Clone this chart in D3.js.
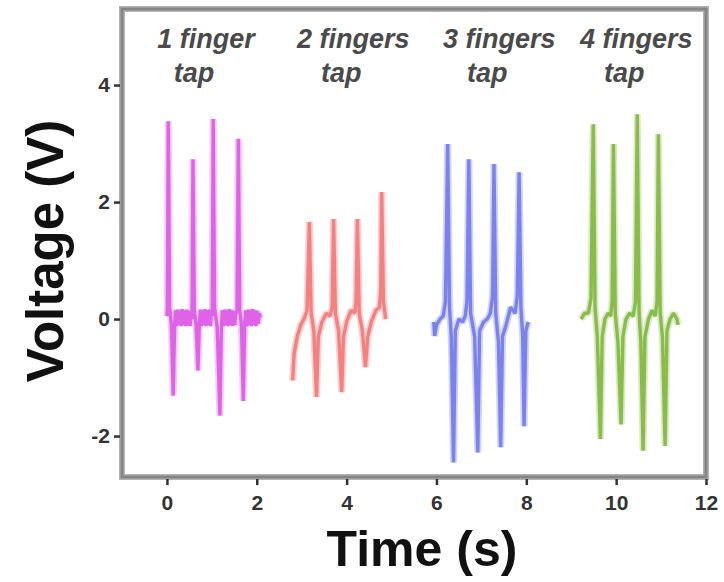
<!DOCTYPE html>
<html>
<head>
<meta charset="utf-8">
<script src="https://cdn.jsdelivr.net/npm/d3@7"></script>
<style>
  html, body { margin: 0; padding: 0; background: #fff; }
  svg { display: block; font-family: "Liberation Sans", Arial, sans-serif; }
</style>
</head>
<body>
<svg id="chart" width="724" height="582"></svg>
<script>
// ---- data ----
const groupLabels = ["1 finger", "2 fingers", "3 fingers", "4 fingers"];
const groupSub = ["tap", "tap", "tap", "tap"];
const groupLabelX = [0.87, 4.15, 7.4, 10.45]; // label centres in time units
const xTicks = [0, 2, 4, 6, 8, 10, 12];
const yTicks = [-2, 0, 2, 4];

const tap1Time = [0.00,0.01,0.03,0.06,0.10,0.14,0.17,0.19,0.215,0.24,0.265,0.29,0.315,0.34,0.365,0.39,0.415,0.44,0.465,0.49,0.515,0.54,0.56,0.58,0.61,0.65,0.69,0.72,0.745,0.77,0.795,0.82,0.845,0.87,0.895,0.92,0.945,0.97,0.99,1.01,1.03,1.06,1.12,1.18,1.21,1.235,1.26,1.285,1.31,1.335,1.36,1.385,1.41,1.435,1.46,1.485,1.51,1.535,1.56,1.59,1.62,1.66,1.70,1.73,1.755,1.78,1.805,1.83,1.855,1.88,1.905,1.93,1.955,1.98,2.005,2.03,2.055,2.08];
const tap1Volt = [0.05,0.15,3.38,0.20,-0.10,-1.31,-0.15,0.15,-0.12,0.16,-0.10,0.15,-0.12,0.17,-0.10,0.15,-0.12,0.16,-0.10,0.14,-0.12,0.10,0.00,2.73,0.15,-0.10,-0.88,-0.10,0.16,-0.12,0.15,-0.10,0.17,-0.12,0.15,-0.10,0.16,-0.12,0.12,0.05,3.42,0.20,-0.15,-1.65,-0.20,0.15,-0.12,0.16,-0.10,0.15,-0.12,0.17,-0.10,0.15,-0.12,0.14,-0.10,0.12,0.10,3.08,0.15,-0.10,-1.40,-0.10,0.15,-0.12,0.16,-0.10,0.15,-0.12,0.17,-0.10,0.15,-0.12,0.14,-0.08,0.10,0.02];

const tap2Time = [2.80,2.83,2.90,2.98,3.05,3.12,3.17,3.21,3.27,3.33,3.37,3.45,3.55,3.63,3.68,3.71,3.75,3.82,3.89,3.93,4.00,4.10,4.18,4.21,4.24,4.28,4.35,4.42,4.47,4.55,4.65,4.73,4.76,4.78,4.82,4.87];
const tap2Volt = [-1.05,-0.60,-0.30,-0.10,0.00,0.15,1.66,0.10,-0.20,-1.33,-0.30,-0.05,0.10,0.05,0.20,1.71,0.10,-0.20,-1.25,-0.30,-0.05,0.15,0.10,0.30,1.71,0.10,-0.20,-0.82,-0.30,-0.05,0.15,0.20,0.50,2.17,0.30,0.00];

const tap3Time = [5.94,5.96,6.00,6.08,6.15,6.20,6.25,6.29,6.33,6.38,6.42,6.50,6.58,6.64,6.68,6.72,6.76,6.85,6.92,6.96,7.05,7.13,7.20,7.25,7.28,7.32,7.38,7.43,7.47,7.55,7.65,7.75,7.80,7.84,7.88,7.92,7.95,7.99,8.04];
const tap3Volt = [-0.05,-0.29,-0.10,0.00,0.05,0.30,2.99,0.20,-0.30,-2.45,-0.20,0.00,-0.05,0.05,0.30,2.73,0.10,-0.30,-2.28,-0.20,-0.05,0.00,0.10,0.40,2.65,0.10,-0.40,-2.19,-0.30,-0.10,0.20,0.10,0.40,2.51,0.20,-0.30,-1.83,-0.20,-0.05];

const tap4Time = [9.22,9.30,9.38,9.44,9.49,9.53,9.58,9.65,9.69,9.75,9.82,9.88,9.91,9.94,9.98,10.04,10.11,10.15,10.22,10.30,10.38,10.43,10.47,10.51,10.55,10.60,10.64,10.72,10.80,10.87,10.91,10.94,10.98,11.03,11.09,11.13,11.20,11.28,11.35,11.38];
const tap4Volt = [0.00,0.10,0.10,0.35,3.33,0.20,-0.30,-2.05,-0.30,0.00,0.10,0.05,0.30,2.99,0.10,-0.40,-1.80,-0.30,0.00,0.10,0.05,0.30,3.50,0.10,-0.40,-2.25,-0.30,0.00,0.15,0.05,0.30,3.16,0.10,-0.30,-2.17,-0.20,0.00,0.10,0.00,-0.10];

const seriesColors = ["#d63ce0", "#f06262", "#5a63e8", "#6aaa18"];
const seriesLight = ["#eaa6ec", "#f5b0b0", "#b0b8f0", "#c2dca4"];

// ---- build ----
const series = [
  d3.zip(tap1Time, tap1Volt),
  d3.zip(tap2Time, tap2Volt),
  d3.zip(tap3Time, tap3Volt),
  d3.zip(tap4Time, tap4Volt)
];

const svg = d3.select("#chart");
const L = 122, R = 706, T = 9, B = 477;
const x = d3.scaleLinear().domain([-1, 12]).range([L, R]);
const y = d3.scaleLinear().domain([-2.7, 5.3]).range([B, T]);

// plot series
const line = d3.line().x(d => x(d[0])).y(d => y(d[1]));
const gPlot = svg.append("g");
series.forEach((s, i) => {
  gPlot.append("path").datum(s).attr("d", line)
    .attr("fill", "none").attr("stroke", seriesLight[i])
    .attr("stroke-width", 7).attr("stroke-opacity", 0.6)
    .attr("stroke-linejoin", "miter").attr("stroke-miterlimit", 1);
  gPlot.append("path").datum(s).attr("d", line)
    .attr("fill", "none").attr("stroke", seriesColors[i])
    .attr("stroke-width", 3.4).attr("stroke-opacity", 0.72)
    .attr("stroke-linejoin", "miter").attr("stroke-miterlimit", 1);
});

// frame
svg.append("rect").attr("x", L).attr("y", T).attr("width", R - L).attr("height", B - T)
  .attr("fill", "none").attr("stroke", "#b4b4b4").attr("stroke-width", 6);
svg.append("rect").attr("x", L).attr("y", T).attr("width", R - L).attr("height", B - T)
  .attr("fill", "none").attr("stroke", "#858585").attr("stroke-width", 3);

// axes
const fmt = d => String(d);
const xAxis = svg.append("g").attr("transform", `translate(0,${B + 2})`)
  .call(d3.axisBottom(x).tickValues(xTicks).tickSize(6).tickSizeOuter(0).tickFormat(fmt));
const yAxis = svg.append("g").attr("transform", `translate(${L - 2},0)`)
  .call(d3.axisLeft(y).tickValues(yTicks).tickSize(6).tickSizeOuter(0).tickFormat(fmt));
[xAxis, yAxis].forEach(a => {
  a.select(".domain").remove();
  a.selectAll(".tick line").attr("stroke", "#333").attr("stroke-width", 2.5);
  a.selectAll(".tick text").attr("fill", "#333").attr("font-size", 21)
    .attr("font-family", "'Liberation Sans', Arial, sans-serif").attr("font-weight", "bold");
});
xAxis.selectAll(".tick text").attr("dy", "1.05em");
yAxis.selectAll(".tick text").attr("dx", "-0.05em");

// axis titles
svg.append("text").attr("x", 422).attr("y", 566).attr("text-anchor", "middle")
  .attr("font-size", 50).attr("font-weight", "bold").attr("fill", "#111").text("Time (s)");
svg.append("text").attr("transform", "translate(63,251) rotate(-90)").attr("text-anchor", "middle")
  .attr("font-size", 51).attr("font-weight", "bold").attr("fill", "#111").text("Voltage (V)");

// group annotations
groupLabels.forEach((lab, i) => {
  const cx = x(groupLabelX[i]);
  svg.append("text").attr("x", cx).attr("y", 48).attr("text-anchor", "middle")
    .attr("font-size", 27).attr("font-style", "italic").attr("font-weight", "bold")
    .attr("fill", "#4a4a4a").text(lab);
  svg.append("text").attr("x", cx - 12).attr("y", 82).attr("text-anchor", "middle")
    .attr("font-size", 27).attr("font-style", "italic").attr("font-weight", "bold")
    .attr("fill", "#4a4a4a").text(groupSub[i]);
});
</script>
</body>
</html>
